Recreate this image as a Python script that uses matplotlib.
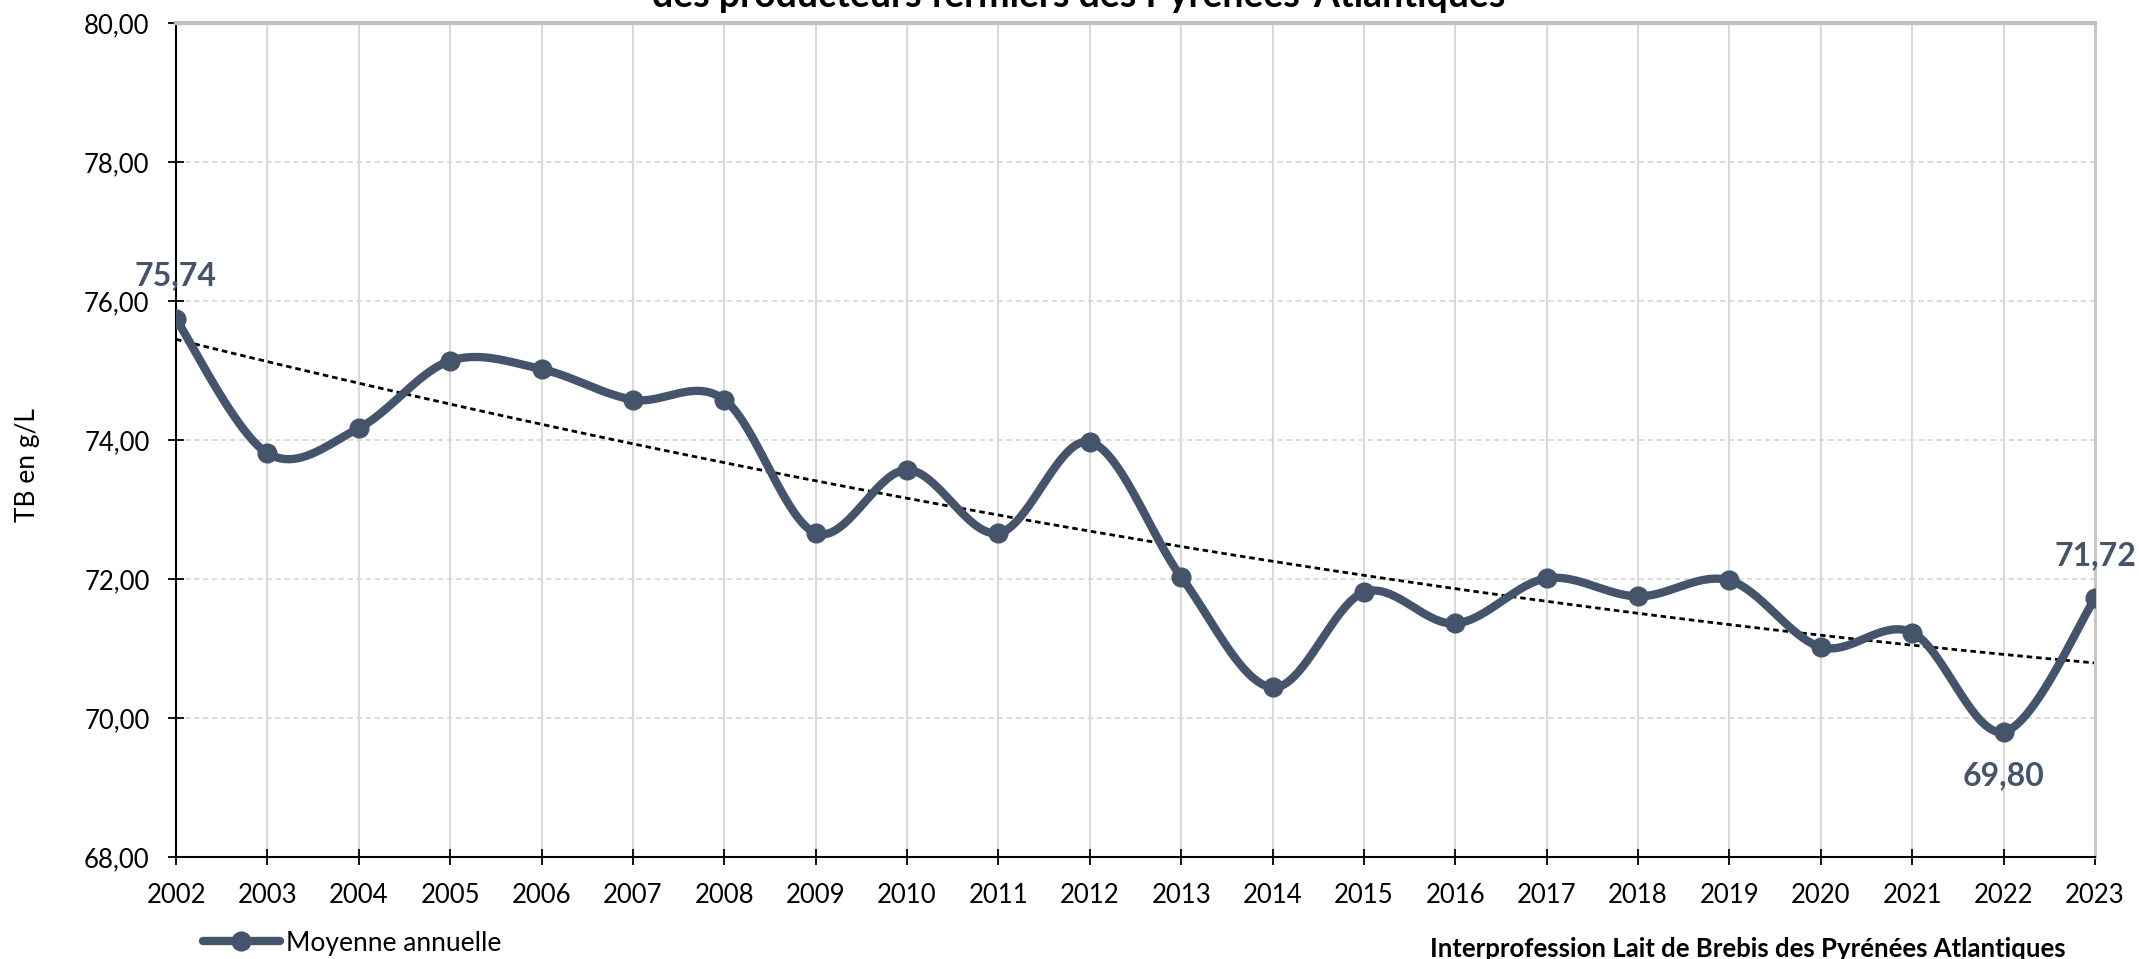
import numpy as np
import matplotlib
matplotlib.use("Agg")
import matplotlib.pyplot as plt
from matplotlib.lines import Line2D

plt.rcParams['font.family'] = ['Lato', 'DejaVu Sans']

# data
years = list(range(2002, 2024))
tb_moyen = [75.74, 73.81, 74.17, 75.14, 75.02, 74.58, 74.58, 72.66, 73.57, 72.66, 73.97,
            72.03, 70.44, 71.81, 71.36, 72.01, 71.75, 71.98, 71.02, 71.23, 69.80, 71.72]
labelled = {2002: "75,74", 2022: "69,80", 2023: "71,72"}
y_ticks = [68, 70, 72, 74, 76, 78, 80]

line_col = '#44546A'


def smooth(x, y, n=40):
    # bezier smoothing like a spreadsheet "smoothed line"
    x = np.asarray(x, float)
    y = np.asarray(y, float)
    px, py = [], []
    for i in range(len(x) - 1):
        i0, i3 = max(i - 1, 0), min(i + 2, len(x) - 1)
        c1x = x[i] + (x[i + 1] - x[i0]) / 6
        c1y = y[i] + (y[i + 1] - y[i0]) / 6
        c2x = x[i + 1] - (x[i3] - x[i]) / 6
        c2y = y[i + 1] - (y[i3] - y[i]) / 6
        t = np.linspace(0, 1, n)
        px.append((1 - t)**3 * x[i] + 3 * (1 - t)**2 * t * c1x + 3 * (1 - t) * t**2 * c2x + t**3 * x[i + 1])
        py.append((1 - t)**3 * y[i] + 3 * (1 - t)**2 * t * c1y + 3 * (1 - t) * t**2 * c2y + t**3 * y[i + 1])
    return np.concatenate(px), np.concatenate(py)


fig = plt.figure(figsize=(21.39, 9.59), dpi=100)
ax = fig.add_axes([176 / 2139, 1 - 857 / 959, (2095 - 176) / 2139, (857 - 23) / 959])

# grid
for yv in y_ticks[1:-1]:
    ax.axhline(yv, color='#D9D9D9', lw=1.3, dashes=(3, 2), zorder=0)
for xv in years[1:-1]:
    ax.axvline(xv, color='#D9D9D9', lw=1.5, zorder=0)

# trend (polynomial order 2)
xi = np.arange(1, len(years) + 1)
coef = np.polyfit(xi, tb_moyen, 2)
xt = np.linspace(1, len(years), 200)
ax.plot(xt + years[0] - 1, np.polyval(coef, xt), color='black', lw=2, dashes=(2, 1.4), zorder=2)

# smoothed series
sx, sy = smooth(years, tb_moyen)
ax.plot(sx, sy, color=line_col, lw=6, solid_capstyle='round', zorder=3)
ax.plot(years, tb_moyen, 'o', color=line_col, ms=13.5, zorder=4)

for yr, txt in labelled.items():
    v = tb_moyen[years.index(yr)]
    if yr == 2022:
        ax.annotate(txt, (yr, v), xytext=(0, -21), textcoords='offset points',
                    ha='center', va='top', fontsize=23, fontweight='bold', color=line_col)
    else:
        ax.annotate(txt, (yr, v), xytext=(0, 24), textcoords='offset points',
                    ha='center', va='baseline', fontsize=23, fontweight='bold', color=line_col,
                    annotation_clip=False)

ax.set_xlim(years[0], years[-1])
ax.set_ylim(68, 80)
ax.set_xticks(years)
ax.set_yticks(y_ticks)
ax.set_yticklabels([f"{v:.2f}".replace('.', ',') for v in y_ticks])
ax.tick_params(axis='both', direction='inout', length=12, width=1.3, labelsize=18.5, pad=13)

for s in ['left', 'bottom']:
    ax.spines[s].set_color('black')
    ax.spines[s].set_linewidth(1.5)
ax.spines['top'].set_color('#BFBFBF')
ax.spines['top'].set_linewidth(3)
ax.spines['right'].set_color('#C8C8C8')
ax.spines['right'].set_linewidth(2.2)

fig.text(27 / 2139, 1 - 465 / 959, "TB en g/L", rotation=90, ha='center', va='center', fontsize=19)

fig.text(1079 / 2139, 1 - 7 / 959, "des producteurs fermiers des Pyrénées-Atlantiques",
         ha='center', va='baseline', fontsize=27, fontweight='bold')

handle = Line2D([], [], color=line_col, lw=6, marker='o', ms=13.5, solid_capstyle='round')
fig.legend([handle], ["Moyenne annuelle"], loc='center left',
           bbox_to_anchor=(203 / 2139, 1 - 943 / 959), frameon=False, fontsize=19,
           handlelength=2.9, handletextpad=0.25, borderpad=0, borderaxespad=0)

fig.text(1430 / 2139, 1 - 957 / 959, "Interprofession Lait de Brebis des Pyrénées Atlantiques",
         ha='left', va='baseline', fontsize=18.5, fontweight='bold')

fig.savefig("out.png", dpi=100)
